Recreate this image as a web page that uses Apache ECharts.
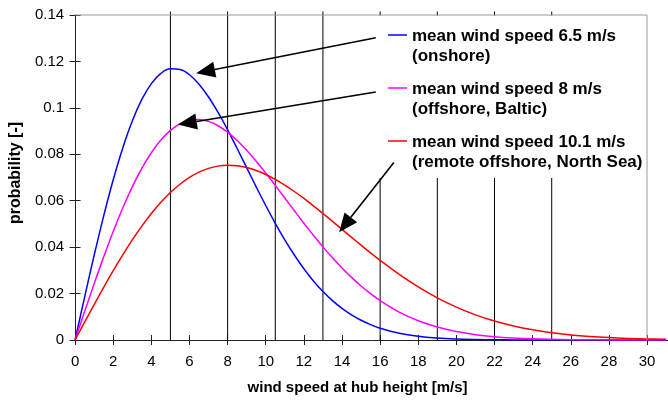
<!DOCTYPE html>
<html>
<head>
<meta charset="utf-8">
<title>wind speed distribution</title>
<script src="https://cdn.jsdelivr.net/npm/echarts@6/dist/echarts.min.js"></script>
<style>
  html, body { margin: 0; padding: 0; background: #fff; }
  #chart { width: 668px; height: 400px; }
</style>
</head>
<body>
<div id="chart"></div>
<script>
/* ---------- data ---------- */
const windSpeed = [0, 0.5, 1, 1.5, 2, 2.5, 3, 3.5, 4, 4.5, 5, 5.5, 6, 6.5, 7, 7.5,
  8, 8.5, 9, 9.5, 10, 10.5, 11, 11.5, 12, 12.5, 13, 13.5, 14, 14.5, 15, 15.5,
  16, 17, 18, 19, 20, 21, 22, 23, 24, 25, 26, 27, 28, 29, 30, 31];

const pOnshore = [0, 0.01850, 0.03649, 0.05348, 0.06903, 0.08275, 0.09435, 0.10362,
  0.11046, 0.11482, 0.11680, 0.11653, 0.11425, 0.11018, 0.10467, 0.09801,
  0.09052, 0.08250, 0.07424, 0.06598, 0.05793, 0.05028, 0.04314, 0.03660,
  0.03069, 0.02545, 0.02089, 0.01696, 0.01362, 0.01082, 0.00851, 0.00662,
  0.00510, 0.00294, 0.00162, 0.00086, 0.00044, 0.00022, 0.00010, 0.00005,
  0.00002, 0.00001, 0, 0, 0, 0, 0, 0];

const pBaltic = [0, 0.01223, 0.02424, 0.03581, 0.04674, 0.05683, 0.06593, 0.07391,
  0.08067, 0.08614, 0.09030, 0.09313, 0.09467, 0.09499, 0.09417, 0.09230,
  0.08952, 0.08596, 0.08175, 0.07703, 0.07194, 0.06661, 0.06115, 0.05569,
  0.05031, 0.04509, 0.04011, 0.03539, 0.03101, 0.02696, 0.02327, 0.01994,
  0.01697, 0.01203, 0.00829, 0.00556, 0.00362, 0.00230, 0.00142, 0.00086,
  0.00050, 0.00029, 0.00016, 0.00009, 0.00005, 0.00002, 0.00001, 0.00001];

const pNorthSea = [0, 0.00768, 0.01528, 0.02270, 0.02986, 0.03669, 0.04310, 0.04904,
  0.05446, 0.05929, 0.06351, 0.06709, 0.07002, 0.07230, 0.07392, 0.07490,
  0.07526, 0.07504, 0.07428, 0.07302, 0.07130, 0.06919, 0.06672, 0.06397,
  0.06098, 0.05780, 0.05449, 0.05110, 0.04767, 0.04424, 0.04086, 0.03754,
  0.03433, 0.02829, 0.02288, 0.01816, 0.01416, 0.01084, 0.00816, 0.00603,
  0.00438, 0.00313, 0.00220, 0.00152, 0.00103, 0.00069, 0.00045, 0.00029];

// vertical reference lines (m/s)
const refSpeeds = [5, 8, 10.5, 13, 16, 19, 22, 25];

const seriesNames = ['mean wind speed 6.5 m/s', 'mean wind speed 8 m/s', 'mean wind speed 10.1 m/s'];
const seriesNotes = ['(onshore)', '(offshore, Baltic)', '(remote offshore, North Sea)'];
const seriesColors = ['#0000ff', '#ff00ff', '#ff0000'];

// arrow annotations in data units: [tail x, tail y, tip x, tip y]
const arrowPaths = [
  [15.77, 0.1302, 6.35, 0.1149],
  [15.77, 0.1068, 5.39, 0.0928],
  [16.72, 0.0765, 13.85, 0.0464]
];

const X_MAX = 31.1;
const Y_MAX = 0.14;
const FRAME_X = 30;
const FONT = '"Liberation Sans", Arial, sans-serif';

/* ---------- helpers ---------- */
function pairs(ys) {
  return windSpeed.map(function (x, i) { return [x, ys[i]]; });
}

function curve(name, ys, color) {
  return {
    name: name,
    type: 'line',
    data: pairs(ys),
    smooth: 0.4,
    showSymbol: false,
    z: 2,
    lineStyle: { color: color, width: 1.5 },
    itemStyle: { color: color },
    animation: false
  };
}

/* ---------- legend box (drawn as graphic) ---------- */
const legendEls = [{
  type: 'rect',
  z: 5,
  shape: { x: 376, y: 15.5, width: 271, height: 162.5 },
  style: { fill: '#fff' }
}];
seriesNames.forEach(function (name, i) {
  const y = 36.5 + i * 53;
  legendEls.push({
    type: 'line', z: 6,
    shape: { x1: 388, y1: y - 1.5, x2: 407, y2: y - 1.5 },
    style: { stroke: seriesColors[i], lineWidth: 1.5 }
  });
  legendEls.push({
    type: 'text', z: 6, x: 412, y: y,
    style: { text: name, font: 'bold 17px ' + FONT, fill: '#000', verticalAlign: 'middle' }
  });
  legendEls.push({
    type: 'text', z: 6, x: 412, y: y + 20,
    style: { text: seriesNotes[i], font: 'bold 17px ' + FONT, fill: '#000', verticalAlign: 'middle' }
  });
});

/* ---------- chart ---------- */
const chart = echarts.init(document.getElementById('chart'), null, { renderer: 'canvas' });

const axisLabelFont = { fontFamily: FONT, fontSize: 15, color: '#000' };

chart.setOption({
  animation: false,
  backgroundColor: '#fff',
  grid: { left: 73.5, right: 0, top: 15, bottom: 56, containLabel: false },
  xAxis: [{
    type: 'value', min: 0, max: X_MAX, interval: 2,
    name: 'wind speed at hub height [m/s]',
    nameLocation: 'middle', nameGap: 40,
    nameTextStyle: { fontFamily: FONT, fontSize: 15, fontWeight: 'bold', color: '#000', padding: [0, 28, 0, 0] },
    axisLine: { show: true, onZero: false, lineStyle: { color: '#222', width: 1 } },
    axisTick: { show: true, inside: false, length: 5, lineStyle: { color: '#222' } },
    axisLabel: Object.assign({ margin: 14, showMaxLabel: false }, axisLabelFont),
    splitLine: { show: false }
  }, {
    type: 'value', min: 0, max: X_MAX, interval: 2, position: 'bottom',
    axisLine: { show: false },
    axisTick: { show: true, inside: true, length: 5, lineStyle: { color: '#222' } },
    axisLabel: { show: false },
    splitLine: { show: false }
  }],
  yAxis: [{
    type: 'value', min: 0, max: Y_MAX, interval: 0.02,
    name: 'probability [-]',
    nameLocation: 'middle', nameGap: 40,
    nameTextStyle: { fontFamily: FONT, fontSize: 16, fontWeight: 'bold', color: '#000', padding: [0, 0, 0, 9] },
    axisLine: { show: true, onZero: false, lineStyle: { color: '#222', width: 1 } },
    axisTick: { show: true, inside: false, length: 5.5, lineStyle: { color: '#222' } },
    axisLabel: Object.assign({ margin: 11 }, axisLabelFont),
    splitLine: { show: false }
  }, {
    type: 'value', min: 0, max: Y_MAX, interval: 0.02, position: 'left',
    axisLine: { show: false },
    axisTick: { show: true, inside: true, length: 5.5, lineStyle: { color: '#222' } },
    axisLabel: { show: false },
    splitLine: { show: false }
  }],
  graphic: { elements: legendEls },
  series: [
    {
      name: 'reference lines',
      type: 'custom',
      z: 1,
      clip: false,
      data: refSpeeds.map(function (x) { return [x, 0]; }),
      encode: { x: 0, y: 1 },
      renderItem: function (params, api) {
        const x = api.value(0);
        const p0 = api.coord([x, 0]);
        const p1 = api.coord([x, Y_MAX]);
        return {
          type: 'line',
          shape: { x1: p0[0], y1: p0[1], x2: p1[0], y2: p1[1] - 3.5 },
          style: { stroke: '#000', lineWidth: 1 }
        };
      }
    },
    curve(seriesNames[0], pOnshore, seriesColors[0]),
    curve(seriesNames[1], pBaltic, seriesColors[1]),
    curve(seriesNames[2], pNorthSea, seriesColors[2]),
    {
      name: 'frame',
      type: 'custom',
      z: 7,
      clip: false,
      data: [[0, Y_MAX, FRAME_X, Y_MAX], [FRAME_X, 0, FRAME_X, Y_MAX]],
      encode: { x: [0, 2], y: [1, 3] },
      renderItem: function (params, api) {
        const a = api.coord([api.value(0), api.value(1)]);
        const b = api.coord([api.value(2), api.value(3)]);
        return {
          type: 'line',
          shape: { x1: a[0], y1: a[1], x2: b[0], y2: b[1] },
          style: { stroke: '#9a9a9a', lineWidth: 1 }
        };
      }
    },
    {
      name: 'arrows',
      type: 'custom',
      z: 8,
      clip: false,
      data: arrowPaths,
      encode: { x: [0, 2], y: [1, 3] },
      renderItem: function (params, api) {
        const a = api.coord([api.value(0), api.value(1)]);
        const b = api.coord([api.value(2), api.value(3)]);
        const dx = b[0] - a[0], dy = b[1] - a[1];
        const len = Math.sqrt(dx * dx + dy * dy);
        const ux = dx / len, uy = dy / len;
        const headLen = 19, headHalf = 8;
        const bx = b[0] - ux * headLen, by = b[1] - uy * headLen;
        return {
          type: 'group',
          children: [{
            type: 'line',
            shape: { x1: a[0], y1: a[1], x2: bx, y2: by },
            style: { stroke: '#000', lineWidth: 1.6 }
          }, {
            type: 'polygon',
            shape: { points: [
              [b[0], b[1]],
              [bx - uy * headHalf, by + ux * headHalf],
              [bx + uy * headHalf, by - ux * headHalf]
            ] },
            style: { fill: '#000' }
          }]
        };
      }
    }
  ]
});
</script>
</body>
</html>
